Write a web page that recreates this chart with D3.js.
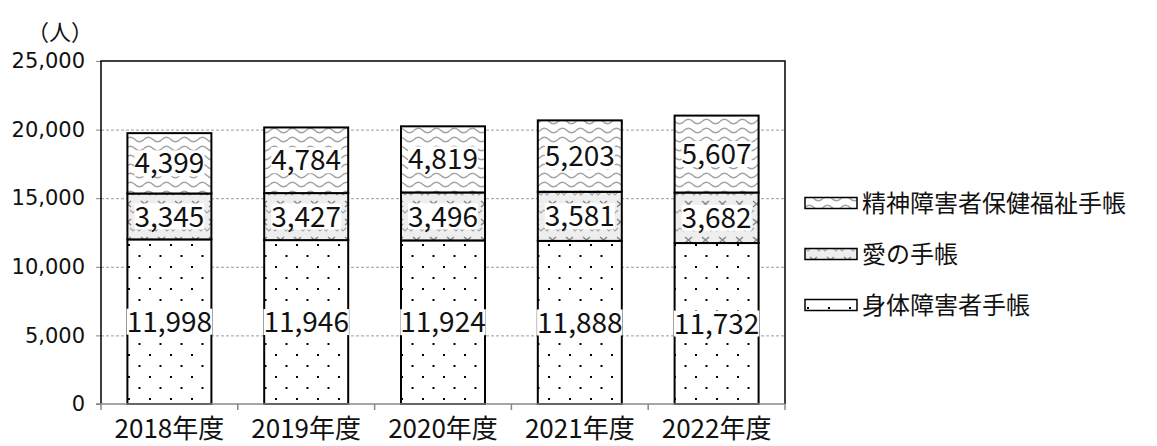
<!DOCTYPE html>
<html>
<head>
<meta charset="utf-8">
<script src="https://cdn.jsdelivr.net/npm/d3@7"></script>
<style>
  body { margin: 0; background: #fff; }
  svg { display: block; }
</style>
</head>
<body>
<svg id="chart" width="1157" height="446"></svg>
<script>
// data
const years = ['2018年度', '2019年度', '2020年度', '2021年度', '2022年度'];
const shintai = [11998, 11946, 11924, 11888, 11732];
const ai = [3345, 3427, 3496, 3581, 3682];
const seishin = [4399, 4784, 4819, 5203, 5607];
const seriesNames = ['身体障害者手帳', '愛の手帳', '精神障害者保健福祉手帳'];
const yTicks = [0, 5000, 10000, 15000, 20000, 25000];

const svg = d3.select('#chart');
const plot = {left: 101, right: 785, top: 61, bottom: 404};
const cjk = "'Noto Sans CJK JP', sans-serif";

// patterns
const defs = svg.append('defs');
const pDots = defs.append('pattern').attr('id', 'p-dots')
  .attr('patternUnits', 'userSpaceOnUse').attr('width', 21).attr('height', 22);
pDots.append('rect').attr('width', 21).attr('height', 22).attr('fill', '#fff');
pDots.append('rect').attr('x', 2).attr('y', 2).attr('width', 2).attr('height', 2).attr('fill', '#000');
pDots.append('rect').attr('x', 12.5).attr('y', 13).attr('width', 2).attr('height', 2).attr('fill', '#000');

const pCross = defs.append('pattern').attr('id', 'p-cross')
  .attr('patternUnits', 'userSpaceOnUse').attr('width', 17).attr('height', 18);
pCross.append('rect').attr('width', 17).attr('height', 18).attr('fill', '#eeeeee');
pCross.append('path').attr('d', 'M5,3 L12,9 M12,3 L5,9')
  .attr('stroke', '#858585').attr('stroke-width', 1.5).attr('fill', 'none');
pCross.append('path').attr('d', 'M0,12 L3,15 L6,12 M11,12 L14,15 L17,12')
  .attr('stroke', '#a5a5a5').attr('stroke-width', 1.2).attr('fill', 'none');

const pWave = defs.append('pattern').attr('id', 'p-wave')
  .attr('patternUnits', 'userSpaceOnUse').attr('width', 18).attr('height', 9);
pWave.append('rect').attr('width', 18).attr('height', 9).attr('fill', '#fff');
pWave.append('path').attr('d', 'M0,4.5 Q4.5,0 9,4.5 T18,4.5')
  .attr('stroke', '#a3a3a3').attr('stroke-width', 1.5).attr('fill', 'none');

const fills = ['url(#p-dots)', 'url(#p-cross)', 'url(#p-wave)'];

// scales
const x = d3.scaleBand().domain(years).range([plot.left, plot.right])
  .paddingInner(0.386).paddingOuter(0.193);
const xSlot = d3.scaleBand().domain(years).range([plot.left, plot.right]);
const y = d3.scaleLinear().domain([0, 25000]).range([plot.bottom, plot.top]);

// gridlines
svg.append('g').selectAll('line').data(yTicks.filter(t => t > 0 && t < 25000)).join('line')
  .attr('x1', plot.left).attr('x2', plot.right)
  .attr('y1', d => y(d) + 0.5).attr('y2', d => y(d) + 0.5)
  .attr('stroke', '#9d9d9d').attr('stroke-width', 1).attr('stroke-dasharray', '3,2');

// y axis
const yAxis = svg.append('g').attr('transform', `translate(${plot.left},0)`)
  .call(d3.axisLeft(y).tickValues(yTicks).tickFormat(d3.format(',')).tickSize(5).tickPadding(11));
yAxis.select('.domain').remove();
yAxis.selectAll('.tick line').attr('stroke', '#888');
yAxis.selectAll('.tick text').attr('font-family', "'DejaVu Sans', sans-serif")
  .attr('font-size', 21).attr('fill', '#111');

// stacked bars
const rows = years.map((yr, i) => ({year: yr, values: [shintai[i], ai[i], seishin[i]]}));
const stackData = rows.map(r => {
  let acc = 0;
  return r.values.map((v, k) => { const s = {year: r.year, k, v, y0: acc, y1: acc + v}; acc += v; return s; });
}).flat();

const segs = svg.append('g').selectAll('g').data(stackData).join('g');
segs.append('rect')
  .attr('x', d => x(d.year))
  .attr('width', x.bandwidth())
  .attr('y', d => y(d.y1))
  .attr('height', d => y(d.y0) - y(d.y1))
  .attr('fill', d => fills[d.k])
  .attr('stroke', '#000').attr('stroke-width', 2);

// value labels
segs.each(function(d) {
  const g = d3.select(this);
  const cx = x(d.year) + x.bandwidth() / 2;
  const cy = (y(d.y0) + y(d.y1)) / 2;
  const t = g.append('text')
    .attr('x', cx).attr('y', cy).attr('dy', '0.36em')
    .attr('text-anchor', 'middle')
    .attr('font-family', cjk).attr('font-size', 28).attr('fill', '#111')
    .text(d3.format(',')(d.v));
  const bb = t.node().getBBox();
  g.insert('rect', 'text')
    .attr('x', bb.x).attr('y', cy - 13).attr('width', bb.width).attr('height', 26)
    .attr('fill', '#fff');
});

// frame: left, top, right black; bottom gray axis
svg.append('path')
  .attr('d', `M${plot.left},${plot.bottom} V${plot.top} H${plot.right} V${plot.bottom}`)
  .attr('fill', 'none').attr('stroke', '#000').attr('stroke-width', 1.5);

const xAxis = svg.append('g').attr('transform', `translate(0,${plot.bottom})`);
xAxis.append('line').attr('x1', plot.left - 5).attr('x2', plot.right)
  .attr('stroke', '#888').attr('stroke-width', 1.5);
xAxis.selectAll('.tk').data(years.map(yr => xSlot(yr)).concat([plot.right])).join('line')
  .attr('class', 'tk')
  .attr('x1', d => d).attr('x2', d => d).attr('y1', 0).attr('y2', 6)
  .attr('stroke', '#888').attr('stroke-width', 1.5);
xAxis.selectAll('text').data(years).join('text')
  .attr('x', d => xSlot(d) + xSlot.bandwidth() / 2)
  .attr('y', 34)
  .attr('text-anchor', 'middle')
  .attr('font-family', cjk).attr('font-size', 26).attr('fill', '#111')
  .text(d => d);

// unit label
svg.append('text').attr('x', 60).attr('y', 40).attr('text-anchor', 'middle')
  .attr('font-family', cjk).attr('font-size', 22).attr('fill', '#111').text('（人）');

// legend (reversed order, top = 精神)
const legendY = [203, 254, 305];
const legend = svg.append('g').selectAll('g').data([2, 1, 0]).join('g')
  .attr('transform', (k, i) => `translate(805,${legendY[i]})`);
legend.append('rect').attr('x', 0).attr('y', -5.5).attr('width', 52).attr('height', 11)
  .attr('fill', k => fills[k]).attr('stroke', '#000').attr('stroke-width', 1.5);
legend.append('text').attr('x', 57).attr('y', 0).attr('dy', '0.36em')
  .attr('font-family', cjk).attr('font-size', 24).attr('fill', '#111')
  .text(k => seriesNames[k]);
</script>
</body>
</html>
